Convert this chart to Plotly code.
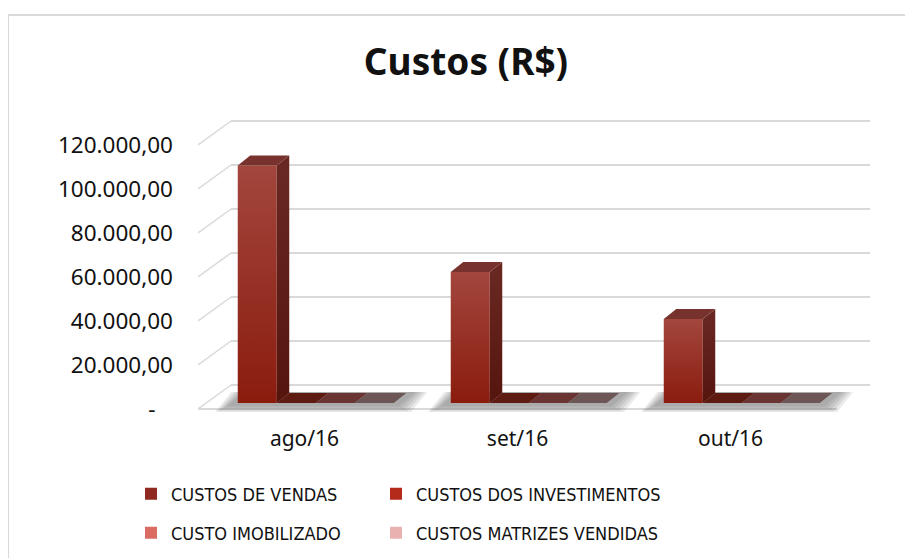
import plotly.graph_objects as go

# ---------------- data ----------------
categories = ["ago/16", "set/16", "out/16"]
series_names = ["CUSTOS DE VENDAS", "CUSTOS DOS INVESTIMENTOS",
                "CUSTO IMOBILIZADO", "CUSTOS MATRIZES VENDIDAS"]
custos_vendas = [108000, 59500, 38200]
custos_investimentos = [0, 0, 0]
custo_imobilizado = [0, 0, 0]
custos_matrizes_vendidas = [0, 0, 0]
y_tick_values = [0, 20000, 40000, 60000, 80000, 100000, 120000]
y_tick_labels = ["-\u00a0\u00a0\u00a0", "20.000,00", "40.000,00", "60.000,00",
                 "80.000,00", "100.000,00", "120.000,00"]

series_values = [custos_vendas, custos_investimentos,
                 custo_imobilizado, custos_matrizes_vendidas]

# ---------------- styles ----------------
legend_colors = ["#8e2a1f", "#b52b1b", "#d96b63", "#e9b2b0"]
front_top = ["#a3463d", "#c04a3c", "#dc7d76", "#ecc0be"]
front_bot = ["#8a1c0e", "#a82412", "#cf5f57", "#e3a8a6"]
side_top = ["#6b2924", "#7a2a22", "#9c4d48", "#a88886"]
side_bot = ["#55140d", "#62160e", "#853a35", "#977472"]
top_col = ["#78322d", "#5e1b12", "#6a3432", "#6d5656"]

# ---------------- geometry (pixel based, page offset compensated) ----------------
OFF = 8                 # page body margin
W, H = 913, 558
PL, PR, PT, PB = 198 - OFF, 872 - OFF, 100 - OFF, 412 - OFF
BAND = 213.0            # px per category on the front floor edge
KY = 2.2 / 1000.0       # px per value unit
Y0 = 409 - OFF          # px row of zero on the front floor edge

XMAX = (PR - PL) / BAND
YMIN = -(PB - Y0) / KY
YMAX = (Y0 - PT) / KY

DX = 33 / BAND          # floor depth, x
DY = 24 / KY            # floor depth, y
BW = 39 / BAND          # bar width
F0 = 0.25               # bar front depth fraction
BDX = 12.5 / BAND       # bar depth x
BDY = 10 / KY           # bar depth y
px_x = 1 / BAND
px_y = 1 / KY

GRID = "#d9d9d9"
fig = go.Figure()

def poly(xs, ys, color=None, grad=None, opacity=1.0):
    kw = dict(x=xs + [xs[0]], y=ys + [ys[0]], mode="lines", fill="toself",
              line=dict(width=0, color="rgba(0,0,0,0)"),
              hoverinfo="skip", showlegend=False, opacity=opacity)
    if grad is not None:
        y_lo, y_hi, c_lo, c_hi = grad
        kw["fillgradient"] = dict(type="vertical", start=y_lo, stop=y_hi,
                                  colorscale=[[0, c_lo], [1, c_hi]])
    else:
        kw["fillcolor"] = color
    fig.add_trace(go.Scatter(**kw))

# back wall grid + left diagonals
for v in y_tick_values:
    fig.add_trace(go.Scatter(x=[DX, 3 + DX], y=[v + DY, v + DY], mode="lines",
                             line=dict(color=GRID, width=2), hoverinfo="skip",
                             showlegend=False))
    fig.add_trace(go.Scatter(x=[0, DX], y=[v, v + DY], mode="lines",
                             line=dict(color=GRID, width=1.5), hoverinfo="skip",
                             showlegend=False))
# front floor edge
fig.add_trace(go.Scatter(x=[0, 3], y=[0, 0], mode="lines",
                         line=dict(color=GRID, width=2), hoverinfo="skip",
                         showlegend=False))

base = F0 * DY
for i in range(len(categories)):
    gl = i + (1 - 4 * BW) / 2 + F0 * DX + 3 * px_x
    gr = gl + 4 * BW
    # soft shadow on the floor
    for k in range(5):
        e = (5 - k) * 3
        poly([gl - (8 + e) * px_x, gr + (2 + e) * px_x,
              gr + BDX + (6 + e) * px_x, gl + BDX - (4 + e) * px_x],
             [base - (2 + e * 0.5) * px_y, base - (2 + e * 0.5) * px_y,
              base + BDY + 1 * px_y, base + BDY + 1 * px_y],
             color="rgba(80,80,80,0.12)")
    for j, vals in enumerate(series_values):
        v = vals[i]
        x0 = gl + j * BW
        x1 = x0 + BW
        t = base + v
        if v > 0:
            # front face
            poly([x0, x1, x1, x0], [base, base, t, t],
                 grad=(base, t, front_bot[j], front_top[j]))
            # side face
            poly([x1, x1 + BDX, x1 + BDX, x1], [base, base + BDY, t + BDY, t],
                 grad=(base, t + BDY, side_bot[j], side_top[j]))
        # top face
        poly([x0, x1, x1 + BDX, x0 + BDX], [t, t, t + BDY, t + BDY],
             color=top_col[j])

# legend entries (one legend box per entry, laid out 2 x 2)
leg_pos = [(123, 486), (368, 486), (123, 525), (368, 525)]
legend_layouts = {}
for j, name in enumerate(series_names):
    lname = "legend" if j == 0 else f"legend{j + 1}"
    fig.add_trace(go.Bar(x=[None], y=[None], name=name,
                         marker=dict(color=legend_colors[j], line=dict(width=0)),
                         showlegend=True, legend=lname))
    lx, ly = leg_pos[j]
    legend_layouts[lname] = dict(
        x=(lx - PL) / (PR - PL), y=(PB - ly) / (PB - PT),
        xanchor="left", yanchor="middle", bgcolor="rgba(0,0,0,0)",
        borderwidth=0, itemwidth=30,
        font=dict(family="Liberation Sans Narrow, DejaVu Sans Condensed, Arial Narrow, sans-serif",
                  size=18, color="#111111"))

fig.update_layout(
    width=W, height=H,
    margin=dict(l=PL, r=W - PR, t=PT, b=H - PB, pad=0),
    paper_bgcolor="white", plot_bgcolor="white",
    title=dict(text="<b>Custos (R$)</b>", x=(466 - OFF) / W, xanchor="center",
               y=1 - (62 - OFF) / H, yanchor="middle",
               font=dict(family="Noto Sans", size=37, color="#111111")),
    xaxis=dict(range=[0, XMAX], showgrid=False, zeroline=False, showline=False,
               tickmode="array", tickvals=[i + 0.5 for i in range(len(categories))],
               ticktext=categories, ticks="", ticklabelstandoff=12,
               tickfont=dict(family="Noto Sans", size=21, color="#111111"),
               fixedrange=True),
    yaxis=dict(range=[YMIN, YMAX], showgrid=False, zeroline=False, showline=False,
               tickmode="array", tickvals=y_tick_values, ticktext=y_tick_labels,
               ticks="", ticklabelstandoff=24,
               tickfont=dict(family="Noto Sans", size=22.5, color="#111111"),
               fixedrange=True),
    shapes=[dict(type="rect", xref="paper", yref="paper",
                 x0=(8 - OFF - PL) / (PR - PL), x1=(916 - PL) / (PR - PL),
                 y0=(PB - 575) / (PB - PT), y1=(PB - (15 - OFF)) / (PB - PT),
                 line=dict(color="#d9d9d9", width=2), fillcolor="rgba(0,0,0,0)",
                 layer="below")],
    **legend_layouts,
)

fig.write_html("out.html")
